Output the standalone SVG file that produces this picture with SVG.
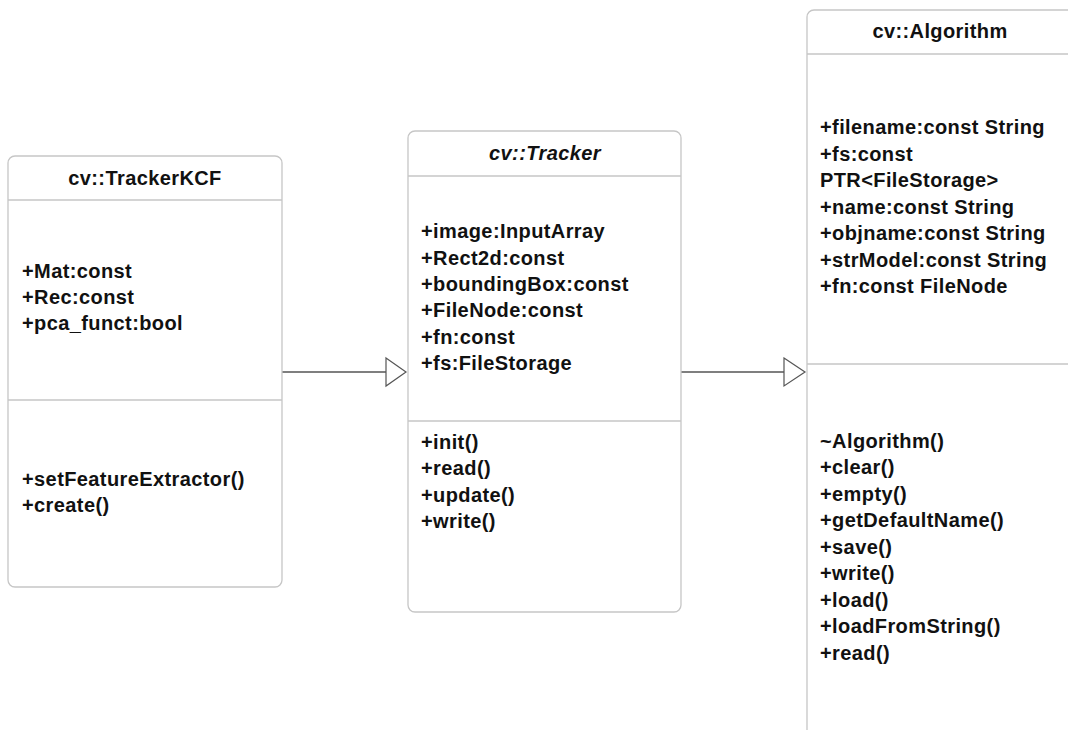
<svg xmlns="http://www.w3.org/2000/svg" width="1068" height="730" viewBox="0 0 1068 730">
<style>
.box{fill:#fff;stroke:#c6c6c6;stroke-width:1.3}
.div{stroke:#c6c6c6;stroke-width:1.3}
.t{font-family:"Liberation Sans",Arial,sans-serif;font-weight:bold;font-size:20px;letter-spacing:0.4px;fill:#111}
.h{text-anchor:middle}
.c{stroke:#555;stroke-width:1.4;fill:none}
.tri{fill:#fff;stroke:#555;stroke-width:1.2}
</style>
<rect width="1068" height="730" fill="#fff"/>
<g id="connectors">
<line class="c" x1="282" y1="372" x2="386" y2="372"/>
<polygon class="tri" points="386,358 406,372 386,386"/>
<line class="c" x1="681" y1="372" x2="784" y2="372"/>
<polygon class="tri" points="784,358 805,372 784,386"/>
</g>
<g id="trackerkcf">
<rect class="box" x="8" y="156" width="274" height="431" rx="7"/>
<line class="div" x1="8" y1="200" x2="282" y2="200"/>
<line class="div" x1="8" y1="400" x2="282" y2="400"/>
<text class="t h" x="145" y="185">cv::TrackerKCF</text>
<text class="t" x="22" y="278">+Mat:const</text>
<text class="t" x="22" y="304">+Rec:const</text>
<text class="t" x="22" y="330">+pca_funct:bool</text>
<text class="t" x="22" y="486">+setFeatureExtractor()</text>
<text class="t" x="22" y="512">+create()</text>
</g>
<g id="tracker">
<rect class="box" x="408" y="131" width="273" height="481" rx="7"/>
<line class="div" x1="408" y1="176" x2="681" y2="176"/>
<line class="div" x1="408" y1="421" x2="681" y2="421"/>
<text class="t h" x="545" y="160" font-style="italic">cv::Tracker</text>
<text class="t" x="421" y="238">+image:InputArray</text>
<text class="t" x="421" y="265">+Rect2d:const</text>
<text class="t" x="421" y="291">+boundingBox:const</text>
<text class="t" x="421" y="317">+FileNode:const</text>
<text class="t" x="421" y="344">+fn:const</text>
<text class="t" x="421" y="370">+fs:FileStorage</text>
<text class="t" x="421" y="449">+init()</text>
<text class="t" x="421" y="475">+read()</text>
<text class="t" x="421" y="502">+update()</text>
<text class="t" x="421" y="528">+write()</text>
</g>
<g id="algorithm">
<rect class="box" x="807" y="10" width="270" height="740" rx="7"/>
<line class="div" x1="807" y1="54" x2="1077" y2="54"/>
<line class="div" x1="807" y1="364" x2="1077" y2="364"/>
<text class="t h" x="940" y="38">cv::Algorithm</text>
<text class="t" x="820" y="134">+filename:const String</text>
<text class="t" x="820" y="161">+fs:const</text>
<text class="t" x="820" y="187">PTR&lt;FileStorage&gt;</text>
<text class="t" x="820" y="214">+name:const String</text>
<text class="t" x="820" y="240">+objname:const String</text>
<text class="t" x="820" y="267">+strModel:const String</text>
<text class="t" x="820" y="293">+fn:const FileNode</text>
<text class="t" x="820" y="448">~Algorithm()</text>
<text class="t" x="820" y="474">+clear()</text>
<text class="t" x="820" y="501">+empty()</text>
<text class="t" x="820" y="527">+getDefaultName()</text>
<text class="t" x="820" y="554">+save()</text>
<text class="t" x="820" y="580">+write()</text>
<text class="t" x="820" y="607">+load()</text>
<text class="t" x="820" y="633">+loadFromString()</text>
<text class="t" x="820" y="660">+read()</text>
</g>
</svg>
